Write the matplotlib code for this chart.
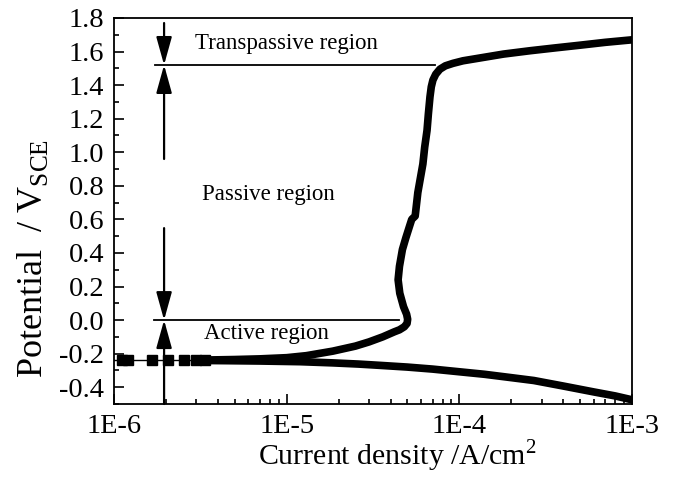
import matplotlib
matplotlib.use('Agg')
import matplotlib.pyplot as plt
from matplotlib.ticker import MultipleLocator, LogLocator, NullFormatter, FormatStrFormatter

plt.rcParams['font.family'] = ['Liberation Serif', 'DejaVu Serif']
plt.rcParams['mathtext.fontset'] = 'custom'
plt.rcParams['mathtext.rm'] = 'Liberation Serif'
plt.rcParams['axes.unicode_minus'] = False

# cathodic branch (current density A/cm2, potential V vs SCE)
cath_i = [1.0e-3, 8.0e-4, 6.0e-4, 4.0e-4, 2.7e-4, 2.0e-4, 1.4e-4, 1.0e-4, 7.0e-5, 5.0e-5,
          3.5e-5, 2.6e-5, 1.85e-5, 1.2e-5, 7e-6, 4.5e-6, 3.4e-6]
cath_E = [-0.475, -0.452, -0.428, -0.393, -0.36, -0.343, -0.323, -0.308, -0.292, -0.28,
          -0.27, -0.262, -0.255, -0.248, -0.244, -0.242, -0.241]

# anodic branch
an_i = [3.4e-6, 5e-6, 7e-6, 1e-5, 1.3e-5, 1.85e-5, 2.5e-5, 3.0e-5, 3.6e-5, 4.2e-5, 4.5e-5,
        4.8e-5, 4.98e-5, 5.02e-5, 4.95e-5, 4.75e-5, 4.52e-5, 4.42e-5, 4.5e-5, 4.68e-5, 4.9e-5,
        5.15e-5, 5.3e-5, 5.55e-5, 5.75e-5, 6.15e-5, 6.3e-5, 6.5e-5, 6.62e-5, 6.76e-5, 6.88e-5,
        7.03e-5, 7.3e-5, 7.72e-5, 8.3e-5, 9.2e-5, 1.05e-4, 1.32e-4, 1.8e-4, 2.57e-4, 3.6e-4,
        5.0e-4, 7.0e-4, 1.0e-3]
an_E = [-0.238, -0.235, -0.231, -0.224, -0.212, -0.185, -0.155, -0.13, -0.10, -0.07, -0.058,
        -0.04, -0.02, 0.005, 0.035, 0.08, 0.16, 0.24, 0.32, 0.42, 0.49,
        0.56, 0.60, 0.62, 0.76, 0.93, 1.03, 1.13, 1.23, 1.33, 1.39,
        1.43, 1.465, 1.495, 1.515, 1.53, 1.545, 1.562, 1.585, 1.605, 1.622,
        1.638, 1.655, 1.67]

# sparse points around the corrosion potential
corr_i = [9e-7, 1.11e-6, 1.2e-6, 1.66e-6, 2.06e-6, 2.54e-6, 2.98e-6, 3.37e-6]
corr_E = [-0.24, -0.24, -0.24, -0.24, -0.24, -0.24, -0.24, -0.24]

# region boundaries
E_trans = 1.52
E_act = 0.0
x_arrow = 1.95e-6

xticks = [1e-6, 1e-5, 1e-4, 1e-3]
xtick_labels = ['1E-6', '1E-5', '1E-4', '1E-3']

fig = plt.figure(figsize=(6.76, 4.83), dpi=100)
ax = fig.add_axes([114 / 676, 79 / 483, 518 / 676, 386 / 483])

ax.plot(cath_i, cath_E, color='k', lw=5.5, solid_joinstyle='round', solid_capstyle='round')
ax.plot(an_i, an_E, color='k', lw=5.5, solid_joinstyle='round', solid_capstyle='round')
ax.plot(corr_i, corr_E, color='k', lw=1, marker='s', ms=6.5)

# boundary lines
ax.plot([1.73e-6, 7.2e-5], [E_trans, E_trans], color='k', lw=1.3)
ax.plot([1.7e-6, 4.5e-5], [E_act, E_act], color='k', lw=1.3)

# arrows
arrow = dict(arrowstyle='-|>,head_length=0.9,head_width=0.25', mutation_scale=19,
             color='k', lw=1.6, shrinkA=0, shrinkB=0)
for y0, y1 in [(1.77, E_trans), (0.96, E_trans), (0.548, E_act), (-0.5, E_act)]:
    ax.annotate('', xy=(x_arrow, y1), xytext=(x_arrow, y0), arrowprops=arrow)

ax.text(1.0e-5, 1.615, 'Transpassive region', ha='center', va='baseline', fontsize=16.5)
ax.text(7.8e-6, 0.715, 'Passive region', ha='center', va='baseline', fontsize=16.5)
ax.text(7.6e-6, -0.113, 'Active region', ha='center', va='baseline', fontsize=16.5)

ax.set_xscale('log')
ax.set_xlim(1e-6, 1e-3)
ax.set_ylim(-0.5, 1.8)
ax.set_xticks(xticks)
ax.set_xticklabels(xtick_labels)
ax.xaxis.set_minor_locator(LogLocator(base=10, subs=[2, 3, 4, 5, 6, 7, 8, 9]))
ax.xaxis.set_minor_formatter(NullFormatter())
ax.yaxis.set_major_locator(MultipleLocator(0.2))
ax.yaxis.set_minor_locator(MultipleLocator(0.1))
ax.yaxis.set_major_formatter(FormatStrFormatter('%.1f'))

ax.tick_params(which='both', direction='in', top=False, right=False, width=1.2, labelsize=20.5)
ax.tick_params(which='major', length=7)
ax.tick_params(which='minor', length=3.5)
ax.tick_params(axis='y', pad=7)
ax.tick_params(axis='x', pad=7)
for s in ax.spines.values():
    s.set_linewidth(1.3)

ax.set_xlabel(r'Current density /A/cm$^{2}$', fontsize=21.5)
ax.xaxis.label.set_verticalalignment('baseline')
ax.xaxis.set_label_coords(0.547, -0.158)
ax.set_ylabel(r'Potential  / V$_{\mathrm{SCE}}$', fontsize=26)
ax.yaxis.label.set_verticalalignment('baseline')
ax.yaxis.set_label_coords(-0.139, 0.378)

fig.savefig('out.png', dpi=100)
